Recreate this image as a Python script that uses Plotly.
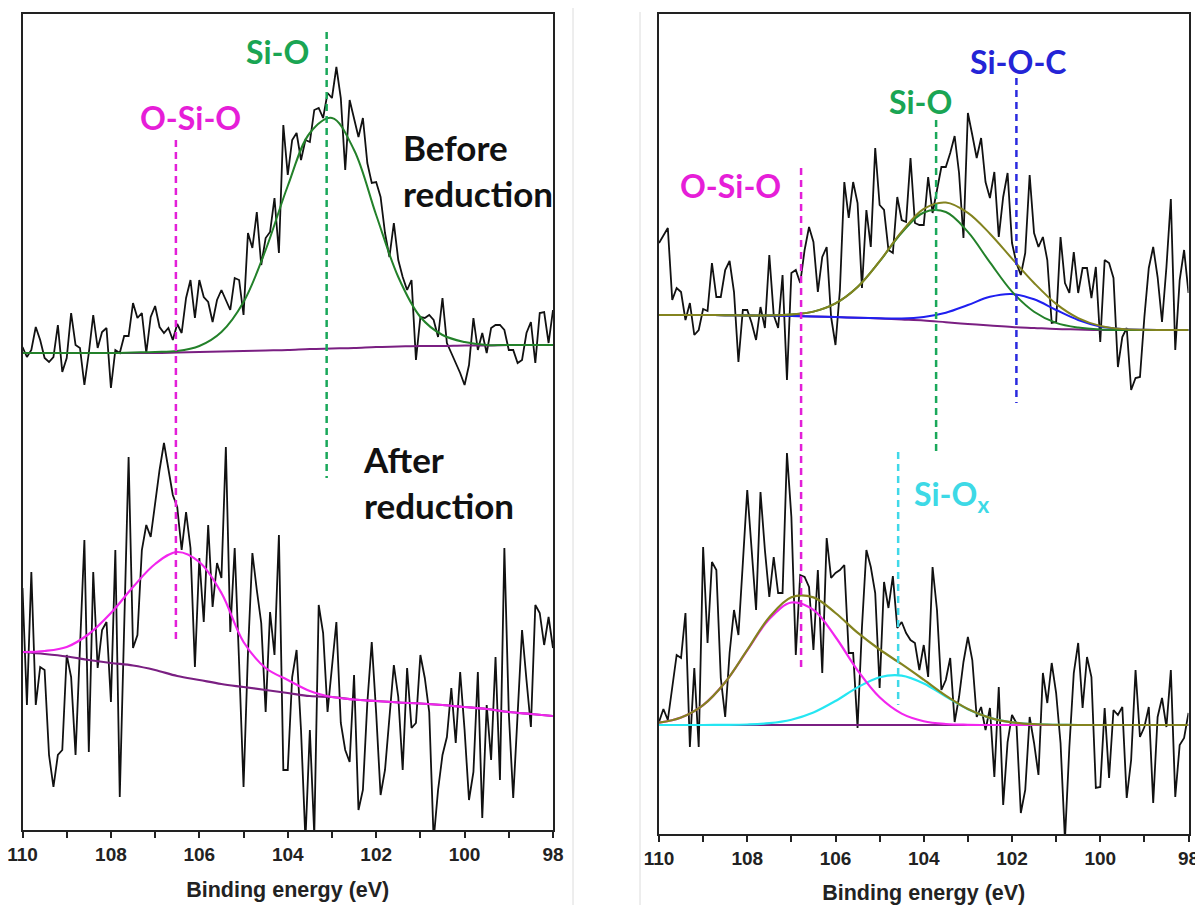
import plotly.graph_objects as go

# The page body has an 8 px margin, so the figure is drawn 8 px smaller than the window
OFF = 8
W, H = 1203 - OFF, 905 - OFF

# ---------------- data (binding energy in eV, intensity in arbitrary units) ----------------
energy = [round(110 - 0.1 * i, 1) for i in range(121)]      # raw spectra grid
fit_energy = [110 - 0.5 * i for i in range(25)]              # fitted-curve grid

before_raw = [483, 473, 480, 503, 490, 472, 468, 473, 505, 458,
              472, 517, 485, 482, 445, 477, 515, 482, 498, 502,
              442, 480, 477, 494, 494, 527, 512, 517, 477, 513,
              524, 503, 497, 502, 490, 506, 497, 532, 550, 512,
              550, 533, 528, 508, 530, 540, 530, 520, 552, 550,
              515, 597, 582, 618, 565, 592, 598, 632, 577, 705,
              655, 690, 697, 670, 690, 688, 720, 722, 712, 737,
              732, 763, 732, 660, 730, 710, 693, 712, 667, 647,
              648, 633, 597, 573, 607, 570, 553, 540, 550, 470,
              513, 512, 515, 510, 493, 532, 487, 477, 467, 457,
              445, 465, 512, 480, 497, 477, 502, 505, 505, 500,
              480, 480, 467, 470, 497, 508, 467, 517, 518, 487, 520]
before_bg = [477, 477, 477, 477, 477, 477, 477, 477.5, 478, 478.5, 479, 479.5, 480,
             481, 481.5, 482, 483, 483.5, 484, 484, 484.5, 484.5, 485, 485, 485]
before_sio = [477, 477, 477, 477, 477, 477.5, 478, 479, 484, 498, 528, 580, 644,
              697, 712, 680, 615, 553, 513, 495, 488, 485, 485, 485, 485]

after_raw = [242, 125, 258, 125, 163, 160, 75, 43, 75, 80,
             175, 153, 75, 183, 290, 78, 258, 162, 200, 208,
             128, 280, 33, 203, 373, 182, 195, 280, 305, 293,
             328, 360, 387, 363, 335, 323, 280, 318, 282, 163,
             272, 208, 305, 223, 267, 252, 383, 198, 282, 167,
             43, 177, 277, 240, 207, 118, 218, 175, 295, 60,
             60, 153, 180, 100, -10, 100, -5, 225, 197, 118,
             160, 208, 107, 80, 68, 155, 20, 40, 127, 188,
             117, 35, 60, 117, 165, 133, 60, 162, 102, 107,
             175, 152, 118, -10, 40, 75, 93, 142, 87, 158,
             100, 30, 58, 158, 12, 125, 70, 173, 50, 282,
             117, 32, 110, 200, 150, 103, 225, 217, 185, 213, 182]
after_bg = [178, 176, 173.5, 170, 167, 164.5, 160, 154, 150, 146, 143, 140, 137,
            134, 133, 130.5, 129, 127.5, 126.5, 125, 123, 121, 118, 116, 114]
after_osio = [178, 179, 183, 196, 217, 243, 266, 278, 268, 237, 188, 162, 150,
              139, 133, 130.5, 129, 127.5, 126.5, 125, 123, 121, 118, 116, 114]

c_before_raw = [587, 595, 602, 530, 542, 538, 510, 527, 495, 500,
                521, 519, 567, 533, 533, 560, 569, 538, 468, 520,
                520, 507, 490, 523, 502, 575, 515, 502, 555, 450,
                557, 560, 547, 580, 603, 588, 538, 573, 583, 513,
                485, 540, 648, 612, 648, 627, 542, 620, 583, 682,
                625, 620, 580, 577, 633, 610, 608, 672, 607, 605,
                605, 653, 617, 640, 663, 663, 677, 694, 657, 592,
                717, 695, 672, 692, 648, 632, 658, 593, 633, 657,
                587, 567, 555, 577, 655, 597, 583, 593, 570, 507,
                508, 593, 547, 537, 578, 537, 562, 562, 532, 563,
                488, 570, 567, 552, 463, 493, 502, 440, 452, 453,
                513, 562, 583, 553, 508, 563, 631, 480, 550, 580, 537]
c_before_bg = [515, 515, 515, 514.75, 514.5, 514.25, 514, 513.5, 513, 512.25, 511.5,
               510.5, 509.5, 507.75, 506, 504.5, 503, 502, 501, 500.5, 500, 500, 500, 500, 500]
c_before_sio = [515, 515, 515, 514.75, 514.6, 514.6, 515.5, 518.4, 526.6, 543, 568.6,
                597.3, 617.5, 618, 598.1, 567.6, 538.4, 518.3, 507.1, 502.4, 500.5,
                500, 500, 500, 500]
c_before_sioc = [515, 515, 515, 514.75, 514.5, 514.25, 514, 513.5, 513, 512.25, 511.7,
                 511.5, 513.1, 517.3, 525, 533.2, 536, 530.7, 520, 510, 503.6, 501,
                 500.2, 500, 500]
c_before_sum = [515, 515, 515, 514.75, 514.6, 514.6, 515.5, 518.4, 526.6, 543, 568.8,
                598.3, 621.1, 627.5, 617.1, 596.3, 571.4, 547, 526.1, 511.9, 504.1,
                501, 500.2, 500, 500]

c_after_raw = [108, 121, 110, 143, 175, 172, 217, 83, 162, 83,
               283, 187, 268, 260, 152, 113, 177, 220, 195, 267,
               340, 280, 220, 338, 280, 233, 273, 237, 237, 377,
               313, 175, 255, 253, 243, 180, 260, 157, 292, 252,
               257, 260, 265, 177, 177, 102, 203, 280, 263, 237,
               142, 248, 222, 254, 202, 208, 197, 190, 187, 160,
               185, 153, 263, 220, 140, 150, 172, 108, 133, 168,
               193, 170, 113, 123, 100, 122, 53, 143, 25, 88,
               115, 107, 17, 40, 113, 87, 55, 157, 127, 167,
               137, 87, -10, 83, 157, 187, 122, 173, 153, 42,
               43, 122, 52, 120, 115, 123, 32, 70, 160, 93,
               103, 123, 27, 113, 132, 103, 160, 33, 85, 92, 117]
c_after_bg = [105] * 25
c_after_osio = [107.3, 112.5, 124.9, 147.7, 179.6, 211, 227.5, 220.1, 193, 159.7,
                132.7, 116.4, 108.8, 106, 105.2, 105, 105, 105, 105, 105, 105, 105,
                105, 105, 105]
c_after_siox = [105, 105, 105, 105.1, 105.5, 106.8, 110.3, 117.5, 129, 142.6, 152.8,
                154.4, 146.5, 133.4, 120.8, 112.1, 107.6, 105.8, 105.2, 105, 105, 105,
                105, 105, 105]
c_after_sum = [107.3, 112.5, 124.9, 147.8, 180.1, 212.8, 232.8, 232.6, 217, 197.3,
               180.5, 165.8, 150.3, 134.4, 121, 112.1, 107.6, 105.8, 105.2, 105, 105,
               105, 105, 105, 105]

# peak position markers: (energy, top, bottom)
left_markers = {"O-Si-O": (106.53, 690, 188), "Si-O": (103.12, 798, 352)}
right_markers = {"O-Si-O": (106.78, 662, 160), "Si-O": (103.72, 710, 378),
                 "Si-O-C": (101.9, 752, 427), "Si-Ox": (104.58, 378, 125)}

# ---------------- styling ----------------
BLACK = "#111111"
PURPLE = "#7a1f82"
GREEN_FIT = "#23812a"
MAGENTA_FIT = "#f226ee"
OLIVE = "#83831f"
BLUE_FIT = "#1f1ff0"
CYAN_FIT = "#25e6f2"
DASH = {"O-Si-O": "#e31fd8", "Si-O": "#1aa85a", "Si-O-C": "#2a2ade", "Si-Ox": "#40d8e8"}
LABEL = {"O-Si-O": "#e61ed8", "Si-O": "#1aa553", "Si-O-C": "#2424d6", "Si-Ox": "#3dd9e6"}


def px_x(p):
    return (p - OFF) / W


def px_y(p):
    return 1 - (p - OFF) / H


fig = go.Figure()


def line(x, y, color, width, xa, ya, spline=False):
    fig.add_trace(go.Scatter(
        x=x, y=y, mode="lines", xaxis=xa, yaxis=ya, showlegend=False,
        line=dict(color=color, width=width, shape="spline" if spline else "linear"),
        hoverinfo="skip"))


# left panel
line(energy, before_raw, BLACK, 1.8, "x", "y")
line(fit_energy, before_bg, PURPLE, 2, "x", "y", True)
line(fit_energy, before_sio, GREEN_FIT, 2, "x", "y", True)
line(energy, after_raw, BLACK, 1.8, "x", "y")
line(fit_energy, after_bg, PURPLE, 2.2, "x", "y", True)
line(fit_energy, after_osio, MAGENTA_FIT, 2.2, "x", "y", True)

# right panel
line(energy, c_before_raw, BLACK, 1.8, "x2", "y2")
line(fit_energy, c_before_bg, PURPLE, 2, "x2", "y2", True)
line(fit_energy, c_before_sioc, BLUE_FIT, 2, "x2", "y2", True)
line(fit_energy, c_before_sio, GREEN_FIT, 2, "x2", "y2", True)
line(fit_energy, c_before_sum, OLIVE, 2, "x2", "y2", True)
line(energy, c_after_raw, BLACK, 1.8, "x2", "y2")
line(fit_energy, c_after_bg, PURPLE, 2, "x2", "y2", True)
line(fit_energy, c_after_siox, CYAN_FIT, 2.2, "x2", "y2", True)
line(fit_energy, c_after_osio, MAGENTA_FIT, 2.2, "x2", "y2", True)
line(fit_energy, c_after_sum, OLIVE, 2.2, "x2", "y2", True)

shapes = []
for name, (e, y0, y1) in left_markers.items():
    shapes.append(dict(type="line", xref="x", yref="y", x0=e, x1=e, y0=y0, y1=y1,
                       line=dict(color=DASH[name], width=2.5, dash="7px,5px")))
for name, (e, y0, y1) in right_markers.items():
    shapes.append(dict(type="line", xref="x2", yref="y2", x0=e, x1=e, y0=y0, y1=y1,
                       line=dict(color=DASH[name], width=2.5, dash="7px,5px")))
# faint separators of the original composite picture
shapes.append(dict(type="line", xref="paper", yref="paper", x0=px_x(573), x1=px_x(573),
                   y0=0, y1=1, line=dict(color="#dcdcdc", width=1)))
shapes.append(dict(type="line", xref="paper", yref="paper", x0=px_x(640), x1=px_x(640),
                   y0=0, y1=px_y(12), line=dict(color="#dcdcdc", width=1)))

LABEL_FONT = "Lato, Open Sans, sans-serif"
annotations = []


def label(text, cx, cy, color, size=32, xanchor="center", align="center"):
    annotations.append(dict(
        text=text, x=px_x(cx), y=px_y(cy), xref="paper", yref="paper",
        xanchor=xanchor, yanchor="middle", align=align, showarrow=False,
        font=dict(family=LABEL_FONT, size=size, color=color, weight="bold")))


label("Si-O", 277, 51, LABEL["Si-O"])
label("O-Si-O", 190, 117, LABEL["O-Si-O"])
label("Before<br>reduction", 401, 170, "#111111", size=35, xanchor="left", align="left")
label("After<br>reduction", 361, 482, "#111111", size=35, xanchor="left", align="left")
label("Si-O-C", 1018, 61, LABEL["Si-O-C"])
label("Si-O", 920, 101, LABEL["Si-O"])
label("O-Si-O", 731, 186, LABEL["O-Si-O"])
label("Si-O<sub>x</sub>", 912, 496, LABEL["Si-Ox"], xanchor="left", align="left")

TICK_FONT = dict(family="Liberation Sans, Arial, sans-serif", size=19, color="#222222",
                 weight="bold")
TITLE_FONT = dict(family="Liberation Sans, Arial, sans-serif", size=21.5, color="#222222",
                  weight="bold")


def xaxis(domain, anchor):
    return dict(domain=domain, anchor=anchor, range=[110, 98], showgrid=False,
                zeroline=False, showline=True, linecolor="#222222", linewidth=1.5,
                mirror=True, ticks="outside", ticklen=6, tickwidth=1.5,
                tickcolor="#222222", tick0=98, dtick=2, tickfont=TICK_FONT,
                ticklabelstandoff=0, ticklabeloverflow="allow", automargin=False,
                minor=dict(dtick=1, ticks="outside", ticklen=6, tickwidth=1.5,
                           tickcolor="#222222"),
                title=dict(text="Binding energy (eV)", font=TITLE_FONT, standoff=18))


def yaxis(domain, anchor, rng):
    return dict(domain=domain, anchor=anchor, range=rng, showgrid=False, zeroline=False,
                showline=True, linecolor="#222222", linewidth=1.5, mirror=True,
                showticklabels=False, ticks="", automargin=False)


fig.update_layout(
    width=W, height=H, margin=dict(l=0, r=0, t=0, b=0, autoexpand=False),
    paper_bgcolor="white", plot_bgcolor="white",
    xaxis=xaxis([px_x(22.5), px_x(553)], "y"),
    yaxis=yaxis([px_y(830), px_y(14)], "x", [0, 816]),
    xaxis2=xaxis([px_x(659), px_x(1188.5)], "y2"),
    yaxis2=yaxis([px_y(834), px_y(14)], "x2", [-4, 816]),
    shapes=shapes, annotations=annotations,
)

fig.write_html("out.html")
